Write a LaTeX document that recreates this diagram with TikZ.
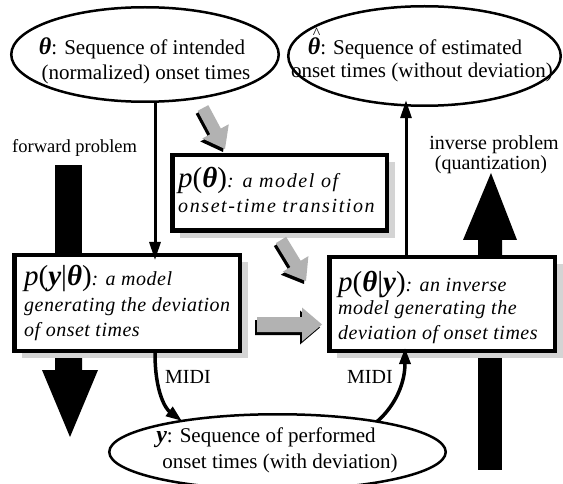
\documentclass[tikz,border=0pt]{standalone}
\usepackage{fontspec}
\setmainfont{Liberation Serif}
\newfontfamily\itA[LetterSpace=2.5]{Liberation Serif}
\newfontfamily\itB[LetterSpace=8]{Liberation Serif}
\usetikzlibrary{shapes.geometric,calc,arrows.meta,shadows}
\definecolor{arrowgray}{gray}{0.70}
\definecolor{shadowgray}{gray}{0.83}
\newcommand{\PP}[1]{{\fontsize{29}{29}\selectfont #1}}
\newcommand{\bth}{{\bfseries\itshape θ}}
\newcommand{\by}{{\bfseries\itshape y}}
\newcommand{\itaA}{\itA\itshape\fontsize{20}{24}\selectfont}
\newcommand{\itaB}{\itB\itshape\fontsize{20}{24}\selectfont}
\newcommand{\hatth}{{\fontsize{24}{24}\selectfont\rlap{\raisebox{16pt}{\kern5pt\fontsize{16}{16}\selectfont\char"005E}}\bth}}
\newcommand{\blockarrow}[5]{%
  \coordinate (#1h) at ($(#3)!20pt!(#2)$);
  \coordinate (#1a) at ($(#2)!#4!90:(#3)$);
  \coordinate (#1b) at ($(#1h)!#4!90:(#3)$);
  \coordinate (#1c) at ($(#1h)!#5!90:(#3)$);
  \coordinate (#1d) at ($(#1h)!#5!-90:(#3)$);
  \coordinate (#1e) at ($(#1h)!#4!-90:(#3)$);
  \coordinate (#1f) at ($(#2)!#4!-90:(#3)$);
  \foreach \dx/\dy/\col in {-2pt/-3pt/black,0pt/0pt/arrowgray}
    \fill[\col] ([xshift=\dx,yshift=\dy]#1a) -- ([xshift=\dx,yshift=\dy]#1b) -- ([xshift=\dx,yshift=\dy]#1c) -- ([xshift=\dx,yshift=\dy]#3) -- ([xshift=\dx,yshift=\dy]#1d) -- ([xshift=\dx,yshift=\dy]#1e) -- ([xshift=\dx,yshift=\dy]#1f) -- cycle;
}
\tikzset{
  ell/.style={ellipse, draw, line width=2.5pt, inner sep=0pt, outer sep=0pt},
  modelbox/.style={rectangle, draw, line width=4.5pt, fill=white, inner sep=0pt,
    general shadow={fill=shadowgray, shadow xshift=8pt, shadow yshift=-7pt}},
  txt/.style={inner sep=0pt, anchor=base west},
  ctxt/.style={inner sep=0pt, anchor=base, font=\fontsize{21}{25}\selectfont},
  thinarrow/.style={line width=3pt, -{Triangle[length=18pt,width=11pt]}},
  midiarrow/.style={line width=3.5pt, -{Triangle[length=16pt,width=11pt]}},
}
\begin{document}
\begin{tikzpicture}[x=1pt,y=-1pt]
\path[use as bounding box, fill=white] (0,0) rectangle (563,484);

% big black problem arrows
\fill (55,165) rectangle (82,256);
\fill (55,356) -- (82,356) -- (82,370) -- (98,370) -- (70,437) -- (42,370) -- (55,370) -- cycle;
\fill (478,257) -- (478,240) -- (463,240) -- (491,173) -- (517,240) -- (502,240) -- (502,257) -- cycle;
\fill (478,355) rectangle (502,470);
\node[txt, font=\fontsize{18.5}{22}\selectfont] (fp) at (12,153) {forward problem};
\node[ctxt, font=\fontsize{20}{24}\selectfont] (ip1) at (494,150) {inverse problem};
\node[ctxt, font=\fontsize{20}{24}\selectfont] (ip2) at (491,170) {(quantization)};

% ellipses
\node[ell, minimum width=267.5pt, minimum height=94.5pt] (thetaE) at (145,54.5) {};
\node[ell, minimum width=272.5pt, minimum height=99.5pt] (hatE) at (424.5,56) {};
\node[ell, minimum width=336.5pt, minimum height=75.5pt] (yE) at (277.5,452) {};
\node[ctxt] (t1) at (142,55) {{\fontsize{24}{24}\selectfont\bth}: Sequence of intended};
\node[ctxt] (t2) at (146,80) {(normalized) onset times};
\node[ctxt] (h1) at (415,55) {\hatth: Sequence of estimated};
\node[ctxt] (h2) at (422,78) {onset times (without deviation)};
\node[ctxt] (y1) at (266,442) {{\fontsize{24}{24}\selectfont\by}: Sequence of performed};
\node[ctxt] (y2) at (280,468) {onset times (with deviation)};

% boxes
\node[modelbox, minimum width=225.5pt, minimum height=95.5pt] (boxL) at (127,303) {};
\node[modelbox, minimum width=214.5pt, minimum height=75.5pt] (boxM) at (279.5,193) {};
\node[modelbox, minimum width=225.5pt, minimum height=93.5pt] (boxR) at (442,304) {};

\node[txt] (l1) at (24,285) {\PP{\textit{p}(\by|\bth)}{\itaA: a model}};
\node[txt] (l2) at (24,312) {\itaA generating the deviation};
\node[txt] (l3) at (24,336) {\itaA of onset times};
\node[txt] (m1) at (178,188) {\PP{\textit{p}(\bth)}{\itaB: a model of}};
\node[txt] (m2) at (178,213) {\itaB onset-time transition};
\node[txt] (r1) at (338,291) {\PP{\textit{p}(\bth|\by)}{\itaA: an inverse}};
\node[txt] (r2) at (338,315) {\itaA model generating the};
\node[txt] (r3) at (338,339) {\itaA deviation of onset times};

% gray block arrows
\coordinate (gA0) at (203,108); \coordinate (gA1) at (225,149);
\coordinate (gB0) at (281,240); \coordinate (gB1) at (306,281);
\coordinate (gC0) at (257,324.5); \coordinate (gC1) at (322,324.5);
\blockarrow{pA}{gA0}{gA1}{6pt}{15pt}
\blockarrow{pB}{gB0}{gB1}{6pt}{15pt}
\blockarrow{pC}{gC0}{gC1}{7.5pt}{17pt}

% connectors
\draw[thinarrow] ([xshift=10pt]thetaE.south) -- ([xshift=28pt,yshift=-7pt]boxL.north);
\draw[thinarrow] ([xshift=-36pt]boxR.north) -- ([xshift=-18.5pt,yshift=5.5pt]hatE.south);
\draw[midiarrow] ([xshift=28pt]boxL.south) .. controls +(0,40) and +(-16,-12) .. (yE.162);
\draw[midiarrow] (yE.17) .. controls +(14,-12) and +(0,40) .. ([xshift=-37pt,yshift=5pt]boxR.south);
\node[txt, font=\fontsize{20}{24}\selectfont] (midi1) at (165,383) {MIDI};
\node[txt, font=\fontsize{20}{24}\selectfont] (midi2) at (347,383) {MIDI};
\end{tikzpicture}
\end{document}
